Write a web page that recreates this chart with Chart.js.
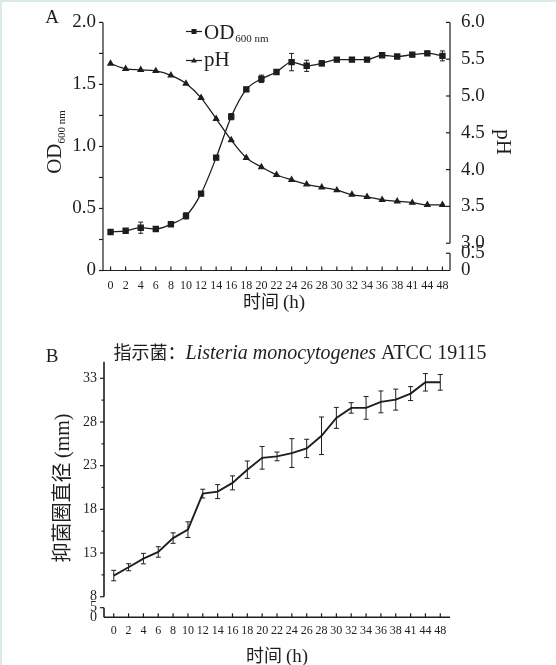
<!DOCTYPE html>
<html>
<head>
<meta charset="utf-8">
<script src="https://cdn.jsdelivr.net/npm/chart.js@4.4.1/dist/chart.umd.min.js"></script>
<style>
  html, body { margin: 0; padding: 0; background: #fff; }
  #page { position: relative; width: 556px; height: 665px; overflow: hidden; }
  #frame { position: absolute; left: 0; top: 0; width: 556px; height: 665px; box-sizing: border-box;
           border-left: 2px solid #dce9eb; border-top: 2px solid #dce9eb; }
  canvas { position: absolute; left: 0; }
  #growth { top: 0; }
  #zone { top: 325px; }
</style>
</head>
<body>
<div id="page">
  <div id="frame"></div>
  <canvas id="growth" width="556" height="325"></canvas>
  <canvas id="zone" width="556" height="340"></canvas>
</div>
<script>
// sampling times (h), as printed on both x axes
const hours = ['0', '2', '4', '6', '8', '10', '12', '14', '16', '18', '20', '22',
               '24', '26', '28', '30', '32', '34', '36', '38', '41', '44', '48'];

// panel A
const odValues = [0.31, 0.32, 0.345, 0.335, 0.373, 0.44, 0.62, 0.91, 1.24, 1.46, 1.545, 1.60,
                  1.68, 1.65, 1.67, 1.70, 1.70, 1.70, 1.735, 1.725, 1.74, 1.75, 1.73];
const odErrors = [0.01, 0.01, 0.045, 0.01, 0.015, 0.025, 0.015, 0.015, 0.025, 0.015, 0.03, 0.02,
                  0.07, 0.045, 0.02, 0.015, 0.015, 0.015, 0.015, 0.015, 0.015, 0.015, 0.04];
const phValues = [5.44, 5.37, 5.355, 5.34, 5.28, 5.17, 4.975, 4.69, 4.40, 4.16, 4.035, 3.93,
                  3.86, 3.80, 3.76, 3.72, 3.66, 3.63, 3.59, 3.57, 3.55, 3.52, 3.52];
const odTicks = [0, 0.5, 1.0, 1.5, 2.0];
const phTicks = [3.0, 3.5, 4.0, 4.5, 5.0, 5.5, 6.0];
const phBreakLabels = ['0', '0.5'];

// panel B
const zoneValues = [10.42, 11.37, 12.36, 13.12, 14.71, 15.67, 19.8, 20.03, 21.03, 22.54, 23.9, 24.06,
                    24.44, 24.97, 26.42, 28.47, 29.61, 29.61, 30.3, 30.56, 31.25, 32.54, 32.54];
const zoneErrors = [0.6, 0.4, 0.6, 0.6, 0.6, 0.9, 0.5, 0.8, 0.8, 1.0, 1.3, 0.5,
                    1.65, 1.05, 2.15, 1.2, 0.6, 1.3, 1.25, 1.2, 0.8, 1.0, 0.9];
const zoneTicks = [8, 13, 18, 23, 28, 33];
const zoneBreakLabels = ['0', '5'];

const SERIF = "'Liberation Serif', 'Times New Roman', serif";
const CJK = "'Noto Sans CJK SC', sans-serif";
const INK = '#1e1e1e';

// broken axes: where the fake "0" / "0.5" (pH) and "0" / "5" (zone) ticks sit
const PH_MIN = 2.629, PH_HALF = 2.863;
const ZONE_MIN = 5.642, ZONE_FIVE = 6.741;

Chart.defaults.font.family = SERIF;
Chart.defaults.color = INK;

const xy = vals => vals.map((v, i) => ({ x: i, y: v }));

function seg(ctx, x1, y1, x2, y2) {
  ctx.beginPath(); ctx.moveTo(x1, y1); ctx.lineTo(x2, y2); ctx.stroke();
}

// draws a row of text pieces (different fonts) centred on cx, optionally rotated
function runs(ctx, pieces, cx, cy, rot) {
  ctx.save();
  ctx.translate(cx, cy);
  if (rot) ctx.rotate(rot);
  ctx.textAlign = 'left';
  ctx.textBaseline = 'alphabetic';
  let total = 0;
  pieces.forEach(p => { ctx.font = p.font; p.w = ctx.measureText(p.text).width; total += p.w; });
  let x = -total / 2;
  pieces.forEach(p => { ctx.font = p.font; ctx.fillText(p.text, x, p.dy || 0); x += p.w; });
  ctx.restore();
}

const errorBars = {
  id: 'errorBars',
  afterDatasetsDraw(chart) {
    const { ctx } = chart;
    chart.data.datasets.forEach((ds, di) => {
      if (!ds.errorBars) return;
      const meta = chart.getDatasetMeta(di);
      const ys = chart.scales[meta.yAxisID];
      ctx.save();
      ctx.strokeStyle = INK;
      ctx.lineWidth = 1;
      meta.data.forEach((pt, i) => {
        const v = ds.data[i].y, e = ds.errorBars[i];
        const top = ys.getPixelForValue(v + e), bot = ys.getPixelForValue(v - e);
        const c = ds.capHalf;
        seg(ctx, pt.x, top, pt.x, bot);
        seg(ctx, pt.x - c, top, pt.x + c, top);
        seg(ctx, pt.x - c, bot, pt.x + c, bot);
      });
      ctx.restore();
    });
  }
};

const indexAxis = (min, max, pad) => ({
  type: 'linear', min, max,
  grid: { display: false, drawTicks: false }, border: { display: false },
  afterBuildTicks: s => { s.ticks = hours.map((h, i) => ({ value: i })); },
  ticks: { callback: v => hours[v], autoSkip: false, maxRotation: 0, padding: pad,
           font: { size: 12, family: SERIF } }
});

// ---------------- panel A ----------------
const growthAxes = {
  id: 'growthAxes',
  afterDraw(chart) {
    const { ctx, chartArea: a, scales: { x, y, y2 } } = chart;
    ctx.save();
    ctx.strokeStyle = INK;
    ctx.lineWidth = 1.2;
    seg(ctx, a.left, a.bottom, a.right, a.bottom);
    seg(ctx, a.left, a.top, a.left, a.bottom);
    x.ticks.forEach(t => { const p = x.getPixelForValue(t.value); seg(ctx, p, a.bottom, p, a.bottom - 4); });
    odTicks.forEach((v, i) => {
      const p = y.getPixelForValue(v);
      seg(ctx, a.left - 4, p, a.left, p);
      if (i < odTicks.length - 1) {
        const m = y.getPixelForValue((v + odTicks[i + 1]) / 2);
        seg(ctx, a.left - 4, m, a.left, m);
      }
    });
    seg(ctx, a.right, a.top, a.right, y2.getPixelForValue(phTicks[0]));
    seg(ctx, a.right, y2.getPixelForValue(PH_HALF), a.right, a.bottom);
    phTicks.concat([PH_HALF]).forEach(v => {
      const p = y2.getPixelForValue(v);
      seg(ctx, a.right - 4, p, a.right, p);
    });

    ctx.fillStyle = INK;
    runs(ctx, [{ text: 'A', font: `19px ${SERIF}` }], 52, 23);
    runs(ctx, [{ text: 'OD', font: `21px ${SERIF}` },
               { text: '600 nm', font: `11px ${SERIF}`, dy: 4 }], 61, 142, -Math.PI / 2);
    runs(ctx, [{ text: 'pH', font: `21px ${SERIF}` }], 497, 142, Math.PI / 2);
    runs(ctx, [{ text: '时间 ', font: `18px ${CJK}` },
               { text: '(h)', font: `19px ${SERIF}` }], 274, 308);

    // legend
    ctx.lineWidth = 1.2;
    seg(ctx, 186, 31.5, 202, 31.5);
    ctx.fillRect(191.5, 29, 5, 5);
    seg(ctx, 186, 60.5, 202, 60.5);
    ctx.beginPath(); ctx.moveTo(194, 57.5); ctx.lineTo(197, 62.5); ctx.lineTo(191, 62.5); ctx.closePath(); ctx.fill();
    ctx.textAlign = 'left';
    ctx.font = `21px ${SERIF}`;
    ctx.fillText('OD', 204, 38.5);
    const w = ctx.measureText('OD').width;
    ctx.font = `11px ${SERIF}`;
    ctx.fillText('600 nm', 205 + w, 42);
    ctx.font = `21px ${SERIF}`;
    ctx.fillText('pH', 204, 66);
    ctx.restore();
  }
};

new Chart(document.getElementById('growth'), {
  type: 'line',
  data: {
    datasets: [{
      label: 'OD600 nm',
      data: xy(odValues),
      errorBars: odErrors, capHalf: 2.5,
      yAxisID: 'y',
      borderColor: INK, backgroundColor: INK, borderWidth: 1.3,
      pointStyle: 'rect', pointRadius: 3.6,
      cubicInterpolationMode: 'monotone'
    }, {
      label: 'pH',
      data: xy(phValues),
      yAxisID: 'y2',
      borderColor: INK, backgroundColor: INK, borderWidth: 1.3,
      pointStyle: 'triangle', pointRadius: 3,
      cubicInterpolationMode: 'monotone'
    }]
  },
  options: {
    responsive: false,
    animation: false,
    layout: { padding: { top: 14, left: 0, right: 0, bottom: 0 } },
    plugins: { legend: { display: false }, tooltip: { enabled: false } },
    scales: {
      x: Object.assign(indexAxis(-0.5, 22.5, 8), { afterFit: s => { s.height = 54.5; } }),
      y: {
        position: 'left', min: 0, max: 2.0,
        grid: { display: false, drawTicks: false }, border: { display: false },
        afterBuildTicks: s => { s.ticks = odTicks.map(v => ({ value: v })); },
        afterFit: s => { s.width = 103; },
        ticks: { callback: v => (v === 0 ? '0' : v.toFixed(1)), padding: 7, autoSkip: false,
                 font: { size: 19, family: SERIF } }
      },
      y2: {
        position: 'right', min: PH_MIN, max: 6.0,
        grid: { display: false, drawTicks: false }, border: { display: false },
        afterBuildTicks: s => {
          s.ticks = [{ value: PH_MIN }, { value: PH_HALF }].concat(phTicks.map(v => ({ value: v })));
        },
        afterFit: s => { s.width = 106; },
        ticks: {
          callback: v => (v === PH_MIN ? phBreakLabels[0] : v === PH_HALF ? phBreakLabels[1] : v.toFixed(1)),
          padding: 11, autoSkip: false, font: { size: 19, family: SERIF }
        }
      }
    }
  },
  plugins: [errorBars, growthAxes]
});

// ---------------- panel B ----------------
const zoneAxes = {
  id: 'zoneAxes',
  afterDraw(chart) {
    const { ctx, chartArea: a, scales: { x, y } } = chart;
    ctx.save();
    ctx.strokeStyle = INK;
    ctx.lineWidth = 1.6;
    seg(ctx, a.left, a.bottom, a.right, a.bottom);
    seg(ctx, a.left, a.top, a.left, y.getPixelForValue(zoneTicks[0]));
    seg(ctx, a.left, y.getPixelForValue(ZONE_FIVE), a.left, a.bottom);
    ctx.lineWidth = 1.2;
    x.ticks.forEach(t => { const p = x.getPixelForValue(t.value); seg(ctx, p, a.bottom, p, a.bottom - 4); });
    zoneTicks.concat([ZONE_FIVE]).forEach(v => {
      const p = y.getPixelForValue(v);
      seg(ctx, a.left - 4, p, a.left, p);
    });
    zoneTicks.slice(0, -1).forEach((v, i) => {
      const m = y.getPixelForValue((v + zoneTicks[i + 1]) / 2);
      seg(ctx, a.left - 2.5, m, a.left, m);
    });

    ctx.fillStyle = INK;
    runs(ctx, [{ text: 'B', font: `19px ${SERIF}` }], 52, 37);
    runs(ctx, [{ text: '指示菌：', font: `18px ${CJK}` },
               { text: 'Listeria monocytogenes', font: `italic 20px ${SERIF}` },
               { text: ' ATCC 19115', font: `20px ${SERIF}` }], 300, 34);
    runs(ctx, [{ text: '抑菌圈直径 ', font: `20px ${CJK}` },
               { text: '(mm)', font: `20px ${SERIF}` }], 69, 163, -Math.PI / 2);
    runs(ctx, [{ text: '时间 ', font: `18px ${CJK}` },
               { text: '(h)', font: `19px ${SERIF}` }], 277, 337);
    ctx.restore();
  }
};

new Chart(document.getElementById('zone'), {
  type: 'line',
  data: {
    datasets: [{
      label: '抑菌圈直径',
      data: xy(zoneValues),
      errorBars: zoneErrors, capHalf: 2.5,
      yAxisID: 'y',
      borderColor: INK, borderWidth: 1.9,
      pointRadius: 0, tension: 0
    }]
  },
  options: {
    responsive: false,
    animation: false,
    layout: { padding: { top: 36.7, left: 0, right: 106, bottom: 0 } },
    plugins: { legend: { display: false }, tooltip: { enabled: false } },
    scales: {
      x: Object.assign(indexAxis(-0.655, 22.655, 6), { afterFit: s => { s.height = 47.7; } }),
      y: {
        position: 'left', min: ZONE_MIN, max: 34.9,
        grid: { display: false, drawTicks: false }, border: { display: false },
        afterBuildTicks: s => {
          s.ticks = [{ value: ZONE_MIN }, { value: ZONE_FIVE }].concat(zoneTicks.map(v => ({ value: v })));
        },
        afterFit: s => { s.width = 104; },
        ticks: {
          callback: v => (v === ZONE_MIN ? zoneBreakLabels[0] : v === ZONE_FIVE ? zoneBreakLabels[1] : String(v)),
          padding: 7, autoSkip: false, font: { size: 14, family: SERIF }
        }
      }
    }
  },
  plugins: [errorBars, zoneAxes]
});
</script>
</body>
</html>
